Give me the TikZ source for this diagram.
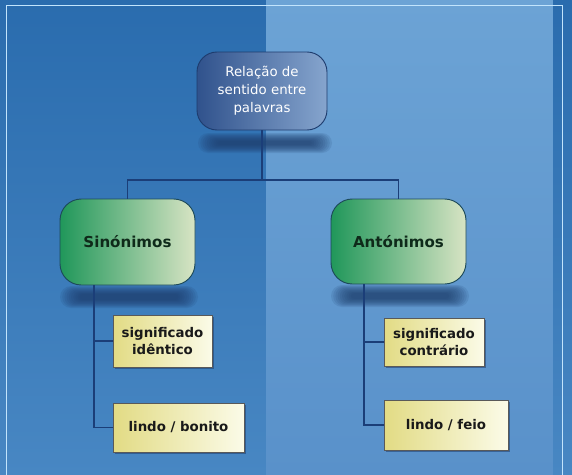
\documentclass[tikz,border=0pt]{standalone}
\usepackage{fontspec}
\setmainfont{DejaVu Sans}
\usetikzlibrary{shadows,calc}
\definecolor{bgLtop}{HTML}{2A6CAE}
\definecolor{bgLbot}{HTML}{4887C3}
\definecolor{bgRtop}{HTML}{6CA3D5}
\definecolor{bgRbot}{HTML}{5991CA}
\definecolor{frameline}{HTML}{C2E4FC}
\definecolor{conncol}{HTML}{1B3E78}
\definecolor{rootL}{HTML}{30528C}
\definecolor{rootR}{HTML}{86A5CE}
\definecolor{rootB}{HTML}{1E3C6E}
\definecolor{grnL}{HTML}{20975A}
\definecolor{grnR}{HTML}{D8E4C4}
\definecolor{grnB}{HTML}{1D4A5A}
\definecolor{grnT}{HTML}{0F2A1A}
\definecolor{ylwL}{HTML}{E2DB84}
\definecolor{ylwR}{HTML}{FBFBE8}
\definecolor{shad}{HTML}{1E3D6C}
\tikzset{
  rootbox/.style={draw=rootB, line width=0.7pt, rounded corners=15pt,
    left color=rootL, right color=rootR, text=white, align=center,
    font=\fontsize{10}{13.5}\selectfont, inner sep=0pt},
  grnbox/.style={draw=grnB, line width=0.7pt, rounded corners=16pt,
    left color=grnL, right color=grnR, text=grnT, align=center,
    font=\fontsize{11.3}{14}\selectfont\bfseries, inner sep=0pt},
  ylwbox/.style={draw=black!65, line width=0.5pt,
    left color=ylwL, right color=ylwR, text=black!90, align=center,
    font=\fontsize{10}{12.75}\selectfont\bfseries, inner sep=0pt,
    drop shadow={shadow xshift=1.6pt, shadow yshift=-1.6pt, opacity=0.55, fill=shad}},
  conn/.style={draw=conncol, line width=1.1pt},
}
\newcommand{\softshadow}[4]{% cx cy w h
  \foreach \k in {0,...,9}{
    \pgfmathsetmacro{\hw}{#3/2-\k*2.2}
    \pgfmathsetmacro{\hh}{#4/2-\k*0.9}
    \pgfmathsetmacro{\rc}{\hh*0.75}
    \fill[shad, opacity=0.13, rounded corners=\rc pt]
      ($(#1,#2)+(-\hw,-\hh)$) rectangle ($(#1,#2)+(\hw,\hh)$);
  }
}
\begin{document}
\begin{tikzpicture}[x=0.75pt,y=-0.75pt]
\useasboundingbox (0,0) rectangle (572,475);
% background
\shade[top color=bgLtop, bottom color=bgLbot] (0,0) rectangle (266,475);
\shade[top color=bgRtop, bottom color=bgRbot] (266,0) rectangle (553,475);
\shade[top color=bgLtop, bottom color=bgLbot] (553,0) rectangle (572,475);
\draw[frameline, line width=1.3pt] (6.5,475) -- (6.5,5.5) -- (562.5,5.5) -- (562.5,475);
% shadows
\softshadow{265}{143}{134}{20}
\softshadow{129}{297}{138}{22}
\softshadow{400}{296}{138}{22}
% nodes
\node[rootbox, minimum width=130*0.75pt, minimum height=78*0.75pt] (root) at (262,91)
  {Relação de\\sentido entre\\palavras};
\node[grnbox, minimum width=135*0.75pt, minimum height=86*0.75pt] (sin) at (127.5,242) {Sinónimos};
\node[grnbox, minimum width=135*0.75pt, minimum height=85*0.75pt] (ant) at (398.5,241.5) {Antónimos};
\node[ylwbox, minimum width=99*0.75pt, minimum height=52*0.75pt] (b1) at (162.5,341) {significado\\idêntico};
\node[ylwbox, minimum width=131*0.75pt, minimum height=49*0.75pt] (b2) at (178.5,427.5) {lindo / bonito};
\node[ylwbox, minimum width=100*0.75pt, minimum height=48*0.75pt] (b3) at (434,342) {significado\\contrário};
\node[ylwbox, minimum width=124*0.75pt, minimum height=50*0.75pt] (b4) at (446,425) {lindo / feio};
% connectors
\coordinate (hub) at (262,180);
\coordinate (ls) at (94,285);
\coordinate (rs) at (364,284);
\draw[conn] (root.south) -- (hub);
\draw[conn] (hub) -| (sin.north);
\draw[conn] (hub) -| (ant.north);
\draw[conn] (ls) |- (b1.west);
\draw[conn] (ls) |- (b2.west);
\draw[conn] (rs) |- (b3.west);
\draw[conn] (rs) |- (b4.west);
\end{tikzpicture}
\end{document}
